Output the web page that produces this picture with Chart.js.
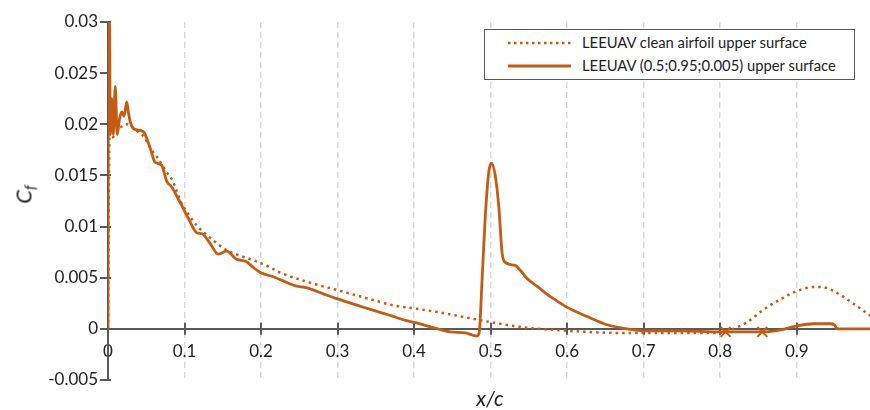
<!DOCTYPE html>
<html>
<head>
<meta charset="utf-8">
<script src="https://cdn.jsdelivr.net/npm/chart.js@4/dist/chart.umd.min.js"></script>
<style>
  html, body { margin: 0; padding: 0; background: #fff; }
  #wrap { position: relative; width: 870px; height: 410px; overflow: hidden; font-family: Lato, "Noto Sans", sans-serif; }
  #c { position: absolute; left: 0; top: 0; }
  #legend { position: absolute; left: 484px; top: 29px; width: 369px; height: 49px; border: 1.5px solid #595959; background: #fff; }
  .item { position: absolute; left: 0; height: 20px; width: 369px; }
  .item svg { position: absolute; left: 22px; top: 0; }
  .item span { position: absolute; left: 97px; top: 0px; font-size: 14.8px; color: #222; white-space: nowrap; line-height: 19px; }
  #ytitle { position: absolute; left: 7px; top: 180px; transform: rotate(-90deg); transform-origin: 50% 50%; font-style: italic; font-size: 22px; color: #222; width: 34px; text-align: center; }
  #ytitle sub { font-size: 15px; vertical-align: -4px; }
  #xtitle { position: absolute; left: 460px; top: 385px; width: 60px; text-align: center; font-style: italic; font-size: 21px; color: #222; }
</style>
</head>
<body>
<div id="wrap">
  <canvas id="c" width="870" height="410"></canvas>
  <div id="legend">
    <div class="item" style="top:3px">
      <svg width="66" height="20"><line x1="1" y1="10" x2="64" y2="10" stroke="#C55A11" stroke-width="2.5" stroke-dasharray="2.5 3.5"/></svg>
      <span>LEEUAV clean airfoil upper surface</span>
    </div>
    <div class="item" style="top:26px">
      <svg width="66" height="20"><line x1="1" y1="10" x2="64" y2="10" stroke="#C55A11" stroke-width="3"/></svg>
      <span>LEEUAV (0.5;0.95;0.005) upper surface</span>
    </div>
  </div>
  <div id="ytitle">C<sub>f</sub></div>
  <div id="xtitle">x/c</div>
</div>
<script>
// ---- data ----
const seriesNames = ["LEEUAV clean airfoil upper surface", "LEEUAV (0.5;0.95;0.005) upper surface"];

const cleanX = [0, 0.002, 0.005, 0.010, 0.018, 0.025, 0.031, 0.037, 0.048, 0.056, 0.066, 0.075, 0.085, 0.0895, 0.096, 0.107, 0.116, 0.135, 0.155, 0.175, 0.194, 0.212, 0.225, 0.26, 0.299, 0.338, 0.373, 0.40, 0.434, 0.469, 0.504, 0.548, 0.583, 0.626, 0.67, 0.75, 0.80, 0.814, 0.836, 0.857, 0.879, 0.90, 0.923, 0.931, 0.953, 0.975, 0.996];
const cleanY = [0, 0.0188, 0.0187, 0.0190, 0.0198, 0.0200, 0.0198, 0.0194, 0.0187, 0.0176, 0.0166, 0.0155, 0.0144, 0.0135, 0.0123, 0.0110, 0.0101, 0.0088, 0.0077, 0.0071, 0.0066, 0.0060, 0.0055, 0.0046, 0.0038, 0.0030, 0.0023, 0.0020, 0.0016, 0.0011, 0.0006, 0.0001, -0.0001, -0.0003, -0.0004, -0.0004, -0.0004, -0.0001, 0.0007, 0.0019, 0.0029, 0.0037, 0.0041, 0.0041, 0.0035, 0.0024, 0.0013];

const coatedX = [0, 0.0005, 0.002, 0.003, 0.005, 0.007, 0.0095, 0.012, 0.015, 0.018, 0.021, 0.0245, 0.027, 0.030, 0.035, 0.046, 0.055, 0.0615, 0.070, 0.077, 0.083, 0.094, 0.105, 0.116, 0.123, 0.133, 0.144, 0.155, 0.168, 0.180, 0.190, 0.199, 0.216, 0.245, 0.260, 0.282, 0.301, 0.330, 0.347, 0.365, 0.390, 0.402, 0.426, 0.447, 0.467, 0.476, 0.482, 0.485, 0.4888, 0.493, 0.4975, 0.501, 0.506, 0.5106, 0.515, 0.519, 0.532, 0.539, 0.548, 0.560, 0.570, 0.583, 0.600, 0.626, 0.652, 0.678, 0.705, 0.750, 0.800, 0.830, 0.855, 0.879, 0.900, 0.923, 0.944, 0.949, 0.953, 0.970, 0.996];
const coatedY = [0, 0.0300, 0.0300, 0.0190, 0.0225, 0.0190, 0.0237, 0.0190, 0.0205, 0.0212, 0.0208, 0.0222, 0.0210, 0.0200, 0.0195, 0.0193, 0.0177, 0.0163, 0.0160, 0.0144, 0.0139, 0.0124, 0.0108, 0.0094, 0.0093, 0.0084, 0.0073, 0.0076, 0.0068, 0.0066, 0.0060, 0.0055, 0.0051, 0.0042, 0.0040, 0.0034, 0.0029, 0.0022, 0.0018, 0.0014, 0.0008, 0.0006, 0.0001, -0.0003, -0.0004, -0.0006, -0.0007, -0.0004, 0.0048, 0.0110, 0.0153, 0.0162, 0.0150, 0.0120, 0.0074, 0.0065, 0.0062, 0.0057, 0.0049, 0.0042, 0.0036, 0.0029, 0.0021, 0.0012, 0.0004, 0.0000, -0.0002, -0.0002, -0.0003, -0.0003, -0.0003, -0.0001, 0.0003, 0.0005, 0.0005, 0.0004, 0.0000, 0.0000, 0.0000];

const markerX = [0.807, 0.855];
const markerY = [-0.0003, -0.0003];

const xTicks = [0, 0.1, 0.2, 0.3, 0.4, 0.5, 0.6, 0.7, 0.8, 0.9];
const xTickLabels = ["0", "0.1", "0.2", "0.3", "0.4", "0.5", "0.6", "0.7", "0.8", "0.9"];
const yTicks = [-0.005, 0, 0.005, 0.01, 0.015, 0.02, 0.025, 0.03];
const yTickLabels = ["-0.005", "0", "0.005", "0.01", "0.015", "0.02", "0.025", "0.03"];

// ---- chart ----
const ORANGE = '#C55A11';
const AXIS = '#595959';
const pts = (xs, ys) => xs.map((x, i) => ({ x: x, y: ys[i] }));

const tickMarks = {
  id: 'tickMarks',
  beforeDatasetsDraw(chart) {
    const { ctx, scales: { x, y } } = chart;
    const y0 = y.getPixelForValue(0);
    ctx.save();
    ctx.strokeStyle = AXIS;
    ctx.lineWidth = 2;
    ctx.beginPath();
    xTicks.forEach(v => {
      const px = Math.round(x.getPixelForValue(v));
      ctx.moveTo(px, y0 - 6); ctx.lineTo(px, y0 + 6);
    });
    yTicks.forEach(v => {
      const py = Math.round(y.getPixelForValue(v));
      ctx.moveTo(x.left - 8, py); ctx.lineTo(x.left + 3, py);
    });
    ctx.stroke();
    ctx.restore();
  }
};

new Chart(document.getElementById('c'), {
  type: 'line',
  data: {
    datasets: [
      {
        label: seriesNames[0],
        data: pts(cleanX, cleanY),
        borderColor: ORANGE,
        borderWidth: 2.5,
        borderDash: [2.5, 4],
        pointRadius: 0,
        cubicInterpolationMode: 'monotone',
        fill: false
      },
      {
        label: seriesNames[1],
        data: pts(coatedX, coatedY),
        borderColor: ORANGE,
        borderWidth: 2.8,
        pointRadius: 0,
        cubicInterpolationMode: 'monotone',
        fill: false
      },
      {
        label: 'markers',
        data: pts(markerX, markerY),
        showLine: false,
        pointStyle: 'crossRot',
        pointRadius: 7,
        pointBorderWidth: 2,
        borderColor: ORANGE,
        backgroundColor: ORANGE
      }
    ]
  },
  options: {
    responsive: false,
    animation: false,
    events: [],
    layout: { autoPadding: false, padding: { left: 0, right: 0, top: 22, bottom: 30 } },
    plugins: { legend: { display: false }, tooltip: { enabled: false } },
    scales: {
      x: {
        type: 'linear',
        position: { y: 0 },
        min: 0,
        max: 0.9957,
        afterBuildTicks: s => { s.ticks = xTicks.map(v => ({ value: v })); },
        afterFit: s => { s.paddingLeft = 0; s.paddingRight = 0; },
        ticks: {
          callback: (v, i) => xTickLabels[i],
          font: { family: 'Lato', size: 17 },
          color: '#222',
          padding: 12,
          maxRotation: 0,
          autoSkip: false
        },
        grid: { color: '#d9d9d9', lineWidth: 1.5, drawTicks: false },
        border: { display: true, color: AXIS, width: 2, dash: [6, 4] }
      },
      y: {
        type: 'linear',
        min: -0.005,
        max: 0.03,
        afterBuildTicks: s => { s.ticks = yTicks.map(v => ({ value: v })); },
        afterFit: s => { s.width = 108; s.paddingTop = 0; s.paddingBottom = 0; },
        ticks: {
          callback: (v, i) => yTickLabels[i],
          font: { family: 'Lato', size: 17 },
          color: '#222',
          padding: 10,
          autoSkip: false
        },
        grid: { drawOnChartArea: false, drawTicks: false },
        border: { display: true, color: AXIS, width: 2 }
      }
    }
  },
  plugins: [tickMarks]
});
</script>
</body>
</html>
